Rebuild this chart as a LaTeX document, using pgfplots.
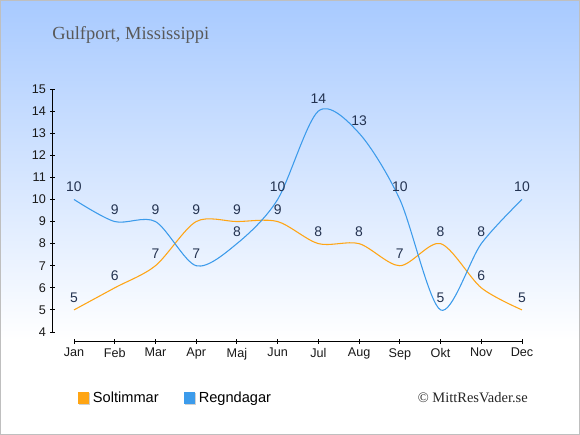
\documentclass[border=0pt]{standalone}
\usepackage{pgfplots}
\pgfplotsset{compat=1.18}
\usepackage{fontspec}
\setmainfont{Liberation Sans}
\newfontfamily\seriffont{Liberation Serif}
\definecolor{sol}{RGB}{255,165,20}
\definecolor{rain}{RGB}{60,155,235}
\definecolor{lab}{RGB}{35,50,80}
\definecolor{bgtop}{RGB}{168,202,255}
\begin{document}
\begin{tikzpicture}
\useasboundingbox (0,0) rectangle (435bp,-326.25bp);
\fill[white] (0,0) rectangle (435bp,-326.25bp);
\shade[top color=bgtop, bottom color=white] (0,0) rectangle (435bp,-255bp);
\draw[black!25, line width=0.75bp] (0.375bp,-0.375bp) rectangle (434.625bp,-325.875bp);
\node[anchor=west, inner sep=0pt, font=\seriffont\fontsize{13.9}{16}\selectfont, text=black!65] at (39bp,-26.5bp) {Gulfport, Mississippi};
\node[anchor=east, inner sep=0pt, font=\seriffont\fontsize{10.9}{13}\selectfont, text=black!85] at (396bp,-298.5bp) {\textcopyright{} MittResVader.se};
\begin{axis}[
 scale only axis, width=336bp, height=182.25bp,
 at={(55.5bp,-249bp)}, anchor=south west,
 xmin=0, xmax=11, ymin=4, ymax=15,
 axis x line*=bottom, axis y line*=left,
 axis x line shift=6.75bp, axis y line shift=15.75bp,
 xtick={0,...,11},
 xticklabels={Jan,Feb,Mar,Apr,Maj,Jun,Jul,Aug,Sep,Okt,Nov,Dec},
 ytick={4,...,15},
 xtick pos=bottom, ytick pos=left,
 tick align=center, major tick length=3.75bp,
 tick style={black, line width=0.75bp},
 axis line style={black, line width=0.75bp, -},
 tick label style={font=\fontsize{9.5}{11}\selectfont, text=black!90},
 /pgf/number format/assume math mode=true,
 clip=false,
 nodes near coords,
 nodes near coords style={anchor=center, yshift=9.2bp, font=\fontsize{10.5}{12}\selectfont, text=lab},
 legend style={at={(0.0,-0.2716)}, anchor=west, draw=none, fill=none,
   legend columns=2, font=\fontsize{11}{13}\selectfont,
   /tikz/every even column/.append style={column sep=17bp}},
 legend image code/.code={\fill[black!18] (0.75bp,-4.5bp) rectangle (8.25bp,3bp); \fill[#1] (0bp,-3.75bp) rectangle (7.5bp,3.75bp);},
]
\addplot[color=sol, line width=0.8bp, smooth, tension=0.5, mark=none] coordinates {
(0,5) (1,6) (2,7) (3,9) (4,9) (5,9) (6,8) (7,8) (8,7) (9,8) (10,6) (11,5)};
\addlegendentry{Soltimmar}
\addplot[color=rain, line width=0.8bp, smooth, tension=0.5, mark=none] coordinates {
(0,10) (1,9) (2,9) (3,7) (4,8) (5,10) (6,14) (7,13) (8,10) (9,5) (10,8) (11,10)};
\addlegendentry{Regndagar}
\end{axis}
\end{tikzpicture}
\end{document}
